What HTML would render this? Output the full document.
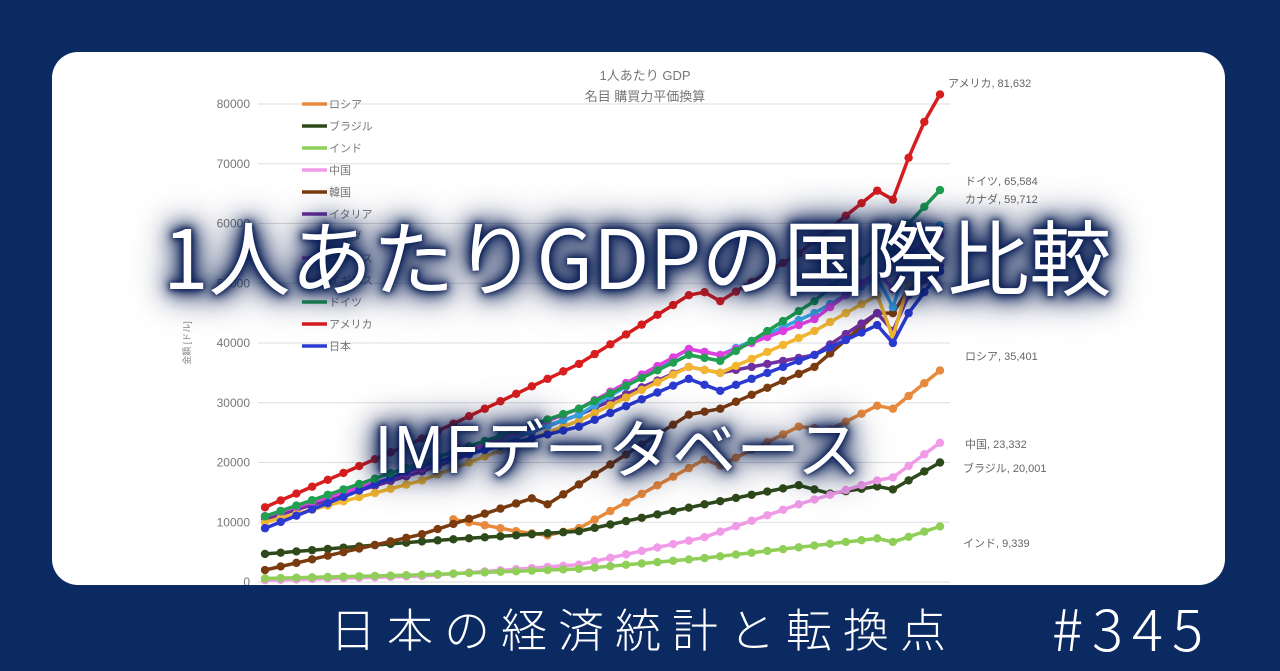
<!DOCTYPE html>
<html><head><meta charset="utf-8">
<style>
html,body{margin:0;padding:0;overflow:hidden;width:1280px;height:671px;}
body{background:#0c2a62;position:relative;font-family:"Liberation Sans","Noto Sans CJK JP",sans-serif;}
#card{position:absolute;left:52px;top:52px;width:1173px;height:533px;background:#fff;border-radius:26px;overflow:hidden;}
svg{position:absolute;left:0;top:0;}
.ov{position:absolute;color:#fff;white-space:nowrap;font-family:"Noto Sans CJK JP","Liberation Sans",sans-serif;font-weight:400;
 text-shadow:0 0 4px #0a1f55,0 0 8px #0a1f55,0 0 12px #0a1f55,0 0 18px #0a1f55,0 0 24px #0a1f55,0 0 32px #0a1f55,0 0 44px #0a1f55;}
#t1{left:163px;top:194px;font-size:82px;letter-spacing:0px;}
#t2{left:374px;top:400px;font-size:64px;}
#ft{position:absolute;left:330px;top:605px;font-size:46px;line-height:1;letter-spacing:11px;color:#fff;font-family:"Noto Sans CJK JP",sans-serif;font-weight:300;}
#num{position:absolute;left:1052px;top:597px;font-size:58px;line-height:1;letter-spacing:9px;color:#fff;font-family:"Noto Sans CJK JP",sans-serif;font-weight:300;}
</style></head><body>
<div id="card"></div>
<svg id="ch" width="1280" height="671" xmlns="http://www.w3.org/2000/svg"></svg>
<div class="ov" id="t1">1人あたりGDPの国際比較</div>
<div class="ov" id="t2">IMFデータベース</div>
<div id="ft">日本の経済統計と転換点</div>
<div id="num">#345</div>
<script>
var s=document.getElementById('ch'),NS='http://www.w3.org/2000/svg';
function el(t,a,txt){var e=document.createElementNS(NS,t);for(var k in a)e.setAttribute(k,a[k]);if(txt)e.textContent=txt;s.appendChild(e);return e;}
el('clipPath',{id:'c'}).appendChild((function(){var r=document.createElementNS(NS,'rect');r.setAttribute('x',52);r.setAttribute('y',52);r.setAttribute('width',1173);r.setAttribute('height',533);r.setAttribute('rx',26);return r;})());
var g=el('g',{'clip-path':'url(#c)'});
function X(i){return 265+i*675/43;}
function Y(v){return 582-v*5.975;}
for(var k=0;k<=8;k++){var y=Y(k*10);
 var l=document.createElementNS(NS,'line');l.setAttribute('x1',258);l.setAttribute('x2',950);l.setAttribute('y1',y);l.setAttribute('y2',y);l.setAttribute('stroke','#ddd');l.setAttribute('stroke-width',1);g.appendChild(l);
 var t=document.createElementNS(NS,'text');t.setAttribute('x',250);t.setAttribute('y',y+4);t.setAttribute('text-anchor','end');t.setAttribute('font-size',12);t.setAttribute('fill','#777');t.textContent=(k*10000)+'';g.appendChild(t);
}
el('text',{x:645,y:80,'text-anchor':'middle','font-size':13,fill:'#777'},'1人あたり GDP');
el('text',{x:645,y:101,'text-anchor':'middle','font-size':13,fill:'#777'},'名目 購買力平価換算');
el('text',{x:190,y:343,'font-size':9,fill:'#888',transform:'rotate(-90 190 343)','text-anchor':'middle'},'金額 [ドル]');
function interp(keys){var out=[];for(var i=0;i<44;i++){var yr=1980+i;if(yr<keys[0][0]){out.push(null);continue;}
 for(var j=0;j<keys.length-1;j++){if(yr>=keys[j][0]&&yr<=keys[j+1][0]){var f=(yr-keys[j][0])/(keys[j+1][0]-keys[j][0]);out.push(keys[j][1]+f*(keys[j+1][1]-keys[j][1]));break;}}
 if(yr>keys[keys.length-1][0])out.push(null);}
 return out;}
var S=[
 ['イギリス','#f2b630',[[1980,10],[1990,17],[2000,27],[2007,36],[2009,35],[2015,42],[2019,48],[2020,41],[2021,50],[2023,54]]],
 ['フランス','#e040e0',[[1980,11],[1990,19],[2000,29],[2007,39],[2009,38],[2015,44],[2019,52],[2020,49],[2021,55],[2023,58]]],
 ['イタリア','#7030a0',[[1980,10.5],[1990,18.5],[2000,28],[2007,36],[2009,35],[2015,38],[2019,45],[2020,42],[2021,48],[2023,53]]],
 ['カナダ','#3aa8e8',[[1980,11],[1990,19],[2000,28],[2007,39],[2009,38],[2015,45],[2019,51],[2020,46],[2021,54],[2023,59.7]]],
 ['日本','#2b3ad0',[[1980,9],[1990,19.5],[2000,26],[2007,34],[2009,32],[2015,38],[2019,43],[2020,40],[2021,45],[2023,52]]],
 ['韓国','#7b3b10',[[1980,2],[1990,8],[1997,14],[1998,13],[2007,28],[2009,29],[2015,36],[2019,45],[2020,45],[2021,49],[2023,52]]],
 ['ドイツ','#20a050',[[1980,11],[1990,20],[2000,29],[2007,38],[2009,37],[2015,47],[2019,56],[2020,55],[2021,60],[2023,65.6]]],
 ['アメリカ','#d81e1e',[[1980,12.5],[1990,24],[2000,36.5],[2007,48],[2008,48.5],[2009,47],[2014,55],[2019,65.5],[2020,64],[2021,71],[2022,77],[2023,81.6]]],
 ['ロシア','#e88a3c',[[1992,10.5],[1996,8.5],[1998,7.8],[2000,9],[2008,20.5],[2009,19.5],[2014,26],[2016,25.5],[2019,29.5],[2020,29],[2023,35.4]]],
 ['ブラジル','#2e4a1a',[[1980,4.7],[1990,6.8],[2000,8.5],[2008,13],[2014,16.2],[2016,14.8],[2019,16],[2020,15.5],[2023,20]]],
 ['中国','#f09ae8',[[1980,0.3],[1990,1],[2000,2.9],[2008,7.5],[2014,13],[2019,17],[2020,17.5],[2023,23.3]]],
 ['インド','#8fcf58',[[1980,0.6],[1990,1.2],[2000,2.2],[2008,4],[2014,5.8],[2019,7.3],[2020,6.7],[2023,9.3]]]
];
var order=[8,9,10,11,5,2,0,3,1,4,6,7];
order.forEach(function(si){var d=S[si],v=interp(d[2]),pts=[];
 v.forEach(function(val,i){if(val!=null)pts.push(X(i).toFixed(1)+','+Y(val).toFixed(1));});
 var p=document.createElementNS(NS,'polyline');p.setAttribute('points',pts.join(' '));p.setAttribute('fill','none');p.setAttribute('stroke',d[1]);p.setAttribute('stroke-width',3.5);g.appendChild(p);
 v.forEach(function(val,i){if(val!=null){var c=document.createElementNS(NS,'circle');c.setAttribute('cx',X(i));c.setAttribute('cy',Y(val));c.setAttribute('r',4.2);c.setAttribute('fill',d[1]);g.appendChild(c);}});
});
var leg=['ロシア','ブラジル','インド','中国','韓国','イタリア','カナダ','フランス','イギリス','ドイツ','アメリカ','日本'];
var legc=['#e88a3c','#2e4a1a','#8fcf58','#f09ae8','#7b3b10','#7030a0','#3aa8e8','#e040e0','#f2b630','#20a050','#d81e1e','#2b3ad0'];
leg.forEach(function(n,i){var y=104+i*22;
 el('line',{x1:302,x2:327,y1:y,y2:y,stroke:legc[i],'stroke-width':3.5});
 el('text',{x:329,y:y+4,'font-size':11,fill:'#777'},n);});
[['アメリカ, 81,632',948,87],['ドイツ, 65,584',965,185],['カナダ, 59,712',965,203],['ロシア, 35,401',965,360],['中国, 23,332',965,448],['ブラジル, 20,001',963,472],['インド, 9,339',963,547]].forEach(function(a){
 el('text',{x:a[1],y:a[2],'font-size':11,fill:'#666'},a[0]);});
</script>
</body></html>
